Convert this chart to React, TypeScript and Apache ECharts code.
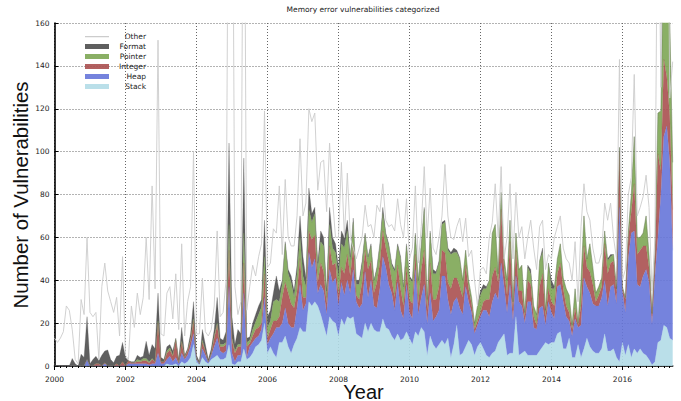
import React, { useEffect, useRef } from "react";
import * as echarts from "echarts";

const months: string[] = [];
for (let y = 2000; y <= 2017; y++) {
  for (let m = 1; m <= 12; m++) {
    if (y === 2017 && m > 6) break;
    months.push(`${y}-${String(m).padStart(2, "0")}`);
  }
}

const seriesNames = ["Stack", "Heap", "Integer", "Pointer", "Format"];
const legendOrder = ["Other", "Format", "Pointer", "Integer", "Heap", "Stack"];
const colors: Record<string, string> = {
  Stack: "#b3dce7",
  Heap: "#6676d9",
  Integer: "#aa5050",
  Pointer: "#7da654",
  Format: "#4e4e4e",
  Other: "#cccccc",
};

const stack = [
  0,0,0,0,0,0,0,0,0,0,0,0,
  0,0,0,0,0,0,0,0,0,0,0,0,
  0,0,0,0,0,0,0,0,0,0,0,0,
  0,0,1,0.5,0.5,1,0,2,1,2,4,10,
  2,0.5,4,2,1,3,4,5,3,3,4,10,
  1,0.5,2,2,8,3,4,6,9,10,12,20,
  6,9,6,4,11,11,14,9,6,10,13,18,
  16,16,30,28,30,28,24,19,14,23,21,20,
  14,22,19,23,22,23,15,14,13,20,16,20,
  17,16,16,22,18,17,14,12,15,12,13,16,
  13,10,16,14,18,16,5,14,10,8,10,12,
  10,13,4,10,19,5,6,9,12,10,5,9,
  11,8,5,4,6,7,11,13,15,5,6,6,
  23,5,6,7,5,5,5,5,7,9,11,10,
  11,11,15,16,8,8,13,4,4,10,4,8,
  13,9,7,6,6,8,15,7,7,8,4,2,
  11,5,10,4,8,6,8,6,5,3,0.5,2,
  11,12,19,18,13,12,
];
const heap = [
  0,0,0,0,0,0,0,0,0,0,0,3,
  0,0,0,0,0,1,0,0,0,0,0,0,
  0,1,1,1,1,1,1,1,0.5,1,1,6,
  1,1,2,4,1.5,3,1,4,2,3,5,5,
  1,0.5,4,3,0.5,2,5,8,4,3,3,27,
  5,1.5,3,3,26,1,5,5,4,4,5,12,
  4,4,9,14,7,9,13,11,12,8,14,20,
  10,13,23,18,20,6,14,16,10,22,18,21,
  14,17,14,17,12,22,15,13,16,24,16,20,
  11,11,20,29,28,21,20,14,24,14,9,22,
  12,12,29,10,14,22,15,20,11,15,16,30,
  32,18,20,20,13,22,18,28,18,15,10,10,
  12,18,21,19,24,27,20,35,22,20,32,15,
  19,25,22,13,25,25,13,12,20,19,8,20,
  14,11,22,22,22,15,8,10,18,8,15,33,
  24,25,22,22,22,24,25,21,30,30,25,72,
  24,20,40,58,55,32,29,36,40,36,19,40,
  49,68,88,94,82,42,
];
const integer = [
  0,0,0,0,0,0,0,0,0,0,0,0,
  0,0,1,1,0,0.5,0,0,0,1,0,2,
  0,1.5,0.5,0.5,1,1,1.5,1.5,1,2,1,14,
  1,1,3,3,2.5,8,0.5,5,1,2,3,6,
  0.5,0,3,2,0.5,1,4,6,2,3,3,17,
  6,4,4,4,14,5,1.5,3,4,4,3,11,
  3,4,6,3,5,12,12,14,11,9,8,12,
  6,3,10,13,11,5,10,9,5,11,8,7,
  5,7,10,12,8,11,3,4,10,10,13,9,
  6,12,12,12,9,11,6,6,8,10,6,8,
  6,7,7,5,13,16,6,14,10,8,11,12,
  11,8,12,11,9,10,8,10,6,4,2,2,
  2,4,5,8,12,12,8,25,8,8,20,5,
  12,5,7,3,10,8,5,2,10,15,4,6,
  5,6,6,10,6,5,4,3,5,1,9,15,
  9,10,9,2,5,5,17,15,11,11,5,26,
  1,6,10,10,22,14,17,14,11,7,4,8,
  39,11,36,23,22,19,
];
const pointer = [
  0,0,0,0,0,0,0,0,0,0,0,0,
  0,0,0,0,0,0,0,0,0,0,0,0,
  0,0,0,0,1,0.5,1,1,0.5,0.5,0,1,
  0,0,1,1,0.5,0.5,0,0.5,0.2,0.3,0.5,1,
  0,0,1,0,0,0,1,1,1,1,1,12,
  1,1,1,1,14,2,1.5,3,3.5,6,7.5,8,
  5,4,9,10,7,6,18,9,10,5,8,10,
  10,5,10,8,10,6,10,12,3,10,8,5,
  8,11,12,11,6,11,5,7,8,7,5,7,
  5,6,8,8,6,7,7,12,9,14,8,10,
  10,10,9,10,11,19,4,14,12,12,11,12,
  14,15,16,12,12,13,8,7,4,3,3,7,
  8,6,5,9,20,20,4,8,5,7,10,4,
  8,10,12,2,6,5,5,5,12,10,3,12,
  6,8,7,9,5,8,8,2,9,1,12,14,
  4,13,8,4,4,4,6,6,3,3,2,2,
  1,1,3,8,22,8,6,6,14,6,1,2,
  19,28,60,60,45,22,
];
const format = [
  0,0,0,0,0,0,3.5,1,0,5.5,4,20,
  1,3,3.5,1.5,5,5.5,7.5,3,1.5,3.5,5,9,
  4,0,0.5,0.5,2,1.5,1,8,3,6.5,6,13,
  2,1,2,1.5,2,0.5,1.5,6.5,0.8,0.7,2.5,8,
  1.5,1,5,3,1,2,3,12,3,2,5,38,
  10,3,7,5,35,2,1.5,3,3.5,4,3.5,17,
  5,5,4,11,5,2,1,2,3,3,4,10,
  9,4,10,4,3,3,5,4,3,8,5,4,
  5,6,5,5,3,2,2,2,2,1,1,1,
  1,1,1,3,1,1,1,1,1,1,1,1,
  1,1,1,1,1,1,1,1,2,1,1,1,
  1,1,1,2,1,0.5,0,0,0,0,0,0,
  2,2,1,0,0,0,0,0,0,0,0,0,
  0,0,0,0,1,2,0,0,0,2,0,0,
  4,1,0,0,0,0,0,0,0,0,0,0,
  0,0,0,0,0,0,0,1,1,0,0,0,
  0,0,0,0,0,0,0,0,0,0,0,0,
  0,0,0,0,0,0,
];
const otherTop = [
  13,11,13,16,28,26,17,3,1,31,24,60,
  25,23,25,3,37,48,35,30,25,32,14,51,
  5,3,28,18,34,24,32,60,31,84,36,152,
  15,14,34,37,22,43,17,57,14,30,37,100,
  15,15,41,16,14,17,28,63,23,25,40,300,
  300,37,24,30,300,26,37,47,42,51,57,119,
  46,48,64,62,84,52,87,60,56,56,70,106,
  70,76,120,114,118,82,95,96,72,104,78,60,
  60,95,60,90,60,55,50,55,60,75,65,66,
  60,75,72,85,68,65,66,63,78,66,60,78,
  50,55,84,48,65,93,60,83,55,52,60,70,
  94,70,60,59,65,69,58,69,51,54,40,28,
  45,46,43,60,67,85,60,93,50,60,85,50,
  81,60,65,50,60,68,55,45,65,68,45,52,
  50,60,65,70,55,50,48,40,58,30,65,85,
  72,68,55,48,48,53,76,68,76,60,50,143,
  40,45,80,88,136,70,74,79,89,74,35,60,
  250,130,300,300,125,142,
];
const yearLabels = ["2000","2002","2004","2006","2008","2010","2012","2014","2016"];
const yTicks = [0, 20, 40, 60, 80, 100, 120, 140, 160];
const titleText = "Memory error vulnerabilities categorized";
const xName = "Year";
const yName = "Number of Vulnerabilities";

const valuesByName: Record<string, number[]> = {
  Stack: stack, Heap: heap, Integer: integer, Pointer: pointer, Format: format,
};

export default function App() {
  const ref = useRef<HTMLDivElement>(null);
  useEffect(() => {
    const chart = echarts.init(ref.current!, undefined, { renderer: "svg" });
    const dotted = { color: "#666", width: 1, type: [1, 2] as any };
    const tickFont = { fontFamily: "DejaVu Sans", fontSize: 7.5, color: "#222" };
    const stackSeries = seriesNames.map((n) => ({
      name: n,
      type: "line" as const,
      stack: "total",
      data: valuesByName[n],
      symbol: "none",
      z: 3,
      lineStyle: { width: 0.3, color: colors[n], opacity: 0.9 },
      itemStyle: { color: colors[n], opacity: 0.9 },
      areaStyle: { color: colors[n], opacity: 0.9 },
      clip: true,
    }));
    chart.setOption({
      animation: false,
      title: {
        text: titleText,
        left: 358,
        top: 0,
        textAlign: "center",
        textStyle: { fontFamily: "DejaVu Sans", fontSize: 7.5, fontWeight: "normal", color: "#222" },
      },
      grid: { left: 54.5, right: 8.3, top: 23, bottom: 35 },
      legend: {
        left: 80,
        top: 27.5,
        orient: "vertical",
        data: legendOrder.map((name) =>
          name === "Other"
            ? { name, icon: "path://M0 0H.01V.01H0ZM0 2H24V3.2H0ZM0 4.99H.01V5H0Z" }
            : { name, icon: "rect" }
        ),
        align: "left",
        itemWidth: 24,
        itemHeight: 5,
        itemGap: 2,
        selectedMode: false,
        formatter: (name: string) => `{r|${name}}`,
        textStyle: {
          rich: {
            r: { width: 32, align: "right", fontFamily: "DejaVu Sans", fontSize: 7.5, color: "#222", lineHeight: 7 },
          },
        },
      },
      xAxis: [
        {
          type: "category",
          data: months,
          boundaryGap: false,
          axisLine: { show: true, lineStyle: { color: "#000", width: 1.6 } },
          axisTick: {
            show: true,
            inside: false,
            length: 2,
            lineStyle: { color: "#000", width: 1 },
            interval: (i: number) => i % 2 === 0,
          },
          axisLabel: {
            ...tickFont,
            margin: 9,
            interval: (i: number) => i % 24 === 0,
            formatter: (v: string) => {
              const y = v.slice(0, 4);
              return yearLabels.includes(y) ? y : "";
            },
          },
          splitLine: {
            show: true,
            lineStyle: dotted,
            interval: (i: number) => i % 24 === 0,
          },
        },
        {
          type: "category",
          data: months,
          boundaryGap: false,
          position: "bottom",
          axisLine: { show: false },
          axisTick: {
            show: true,
            inside: false,
            length: 4,
            lineStyle: { color: "#000", width: 1 },
            interval: (i: number) => i % 24 === 0,
          },
          axisLabel: { show: false },
          splitLine: { show: false },
        },
      ],
      yAxis: {
        type: "value",
        min: 0,
        max: 160,
        interval: 20,
        axisLine: { show: true, lineStyle: { color: "#000", width: 1.6 } },
        axisTick: { show: true, inside: true, length: 4, lineStyle: { color: "#000", width: 1 } },
        axisLabel: {
          ...tickFont,
          margin: 5,
          formatter: (v: number) => (yTicks.includes(v) ? String(v) : ""),
        },
        splitLine: { show: true, lineStyle: dotted },
      },
      graphic: [
        {
          type: "text",
          x: 363.5,
          y: 391.5,
          style: { text: xName, fontFamily: "Liberation Sans", fontSize: 20, fill: "#111", align: "center", verticalAlign: "middle" },
        },
        {
          type: "text",
          x: 21,
          y: 195,
          rotation: Math.PI / 2,
          style: { text: yName, fontFamily: "Liberation Sans", fontSize: 20.4, fill: "#111", align: "center", verticalAlign: "middle" },
        },
      ],
      series: [
        {
          name: "Other",
          type: "line",
          data: otherTop,
          symbol: "none",
          z: 4,
          lineStyle: { width: 0.9, color: colors.Other },
          itemStyle: { color: colors.Other },
          clip: true,
        },
        ...stackSeries,
      ],
    });
    return () => chart.dispose();
  }, []);
  return <div ref={ref} style={{ width: 681, height: 401, position: "absolute", left: 0, top: 0 }} />;
}
